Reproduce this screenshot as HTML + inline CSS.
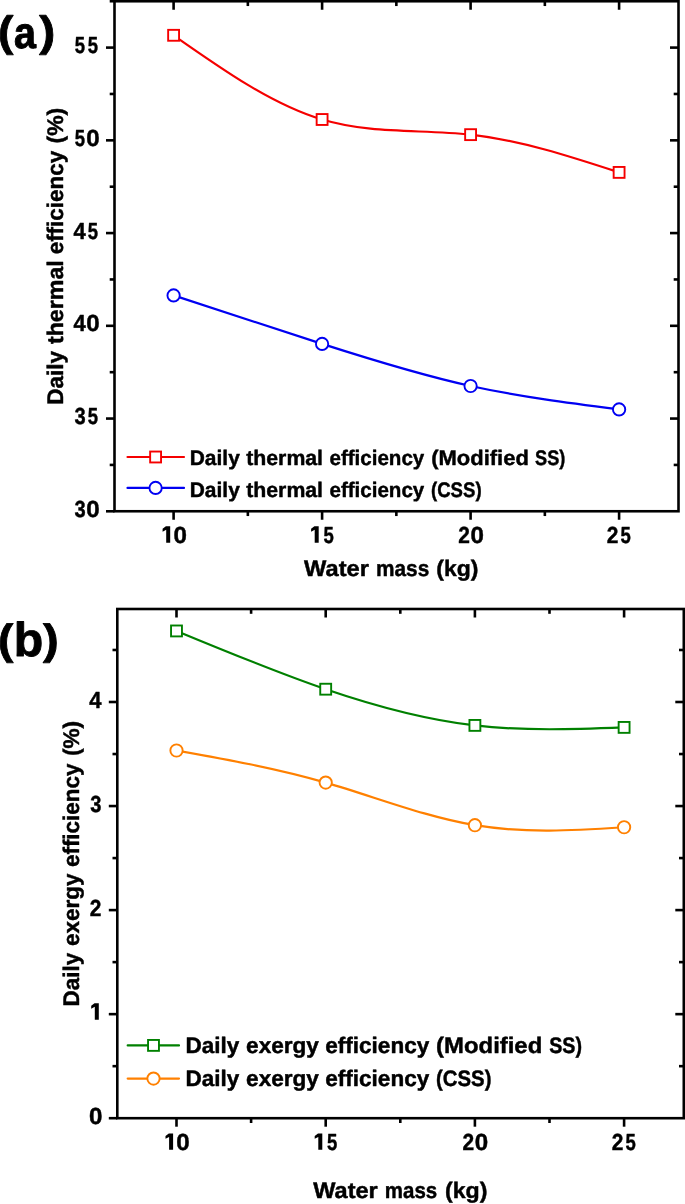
<!DOCTYPE html>
<html><head><meta charset="utf-8"><style>
html,body{margin:0;padding:0;background:#fff;width:685px;height:1204px;overflow:hidden}
svg{display:block;will-change:transform}
text{font-family:"Liberation Sans", sans-serif;font-weight:bold;fill:#000;stroke:#000;stroke-width:0.45px;stroke-linejoin:round;text-rendering:geometricPrecision}
</style></head><body>
<svg width="685" height="1204" viewBox="0 0 685 1204">
<rect width="685" height="1204" fill="#fff"/>
<path d="M173.6,35.3 C223.1,70.01 272.6,104.71 322.1,119.5 C371.6,134.29 421.1,129.15 470.6,134.65 C520.1,140.15 569.6,156.27 619.1,172.4" fill="none" stroke="#f50000" stroke-width="2.2"/>
<path d="M173.6,295.4 C223.1,311.72 272.6,328.04 322.1,343.9 C371.6,359.76 421.1,375.16 470.6,386 C520.1,396.84 569.6,403.12 619.1,409.4" fill="none" stroke="#0000f2" stroke-width="2.2"/>
<rect x="168.15" y="29.85" width="10.9" height="10.9" fill="#fff" stroke="#f50000" stroke-width="1.9"/>
<rect x="316.65" y="114.05" width="10.9" height="10.9" fill="#fff" stroke="#f50000" stroke-width="1.9"/>
<rect x="465.15" y="129.2" width="10.9" height="10.9" fill="#fff" stroke="#f50000" stroke-width="1.9"/>
<rect x="613.65" y="166.95" width="10.9" height="10.9" fill="#fff" stroke="#f50000" stroke-width="1.9"/>
<circle cx="173.6" cy="295.4" r="6.15" fill="#fff" stroke="#0000f2" stroke-width="1.9"/>
<circle cx="322.1" cy="343.9" r="6.15" fill="#fff" stroke="#0000f2" stroke-width="1.9"/>
<circle cx="470.6" cy="386" r="6.15" fill="#fff" stroke="#0000f2" stroke-width="1.9"/>
<circle cx="619.1" cy="409.4" r="6.15" fill="#fff" stroke="#0000f2" stroke-width="1.9"/>
<line x1="127.5" y1="457" x2="184" y2="457" stroke="#f50000" stroke-width="2.2" stroke-linecap="round"/>
<rect x="150.15" y="451.55" width="10.9" height="10.9" fill="#fff" stroke="#f50000" stroke-width="1.9"/>
<text x="189.78" y="465.4" font-size="21" textLength="50.01" lengthAdjust="spacingAndGlyphs">Daily</text>
<text x="246.23" y="465.4" font-size="21" textLength="76.81" lengthAdjust="spacingAndGlyphs">thermal</text>
<text x="329.51" y="465.4" font-size="21" textLength="94.77" lengthAdjust="spacingAndGlyphs">efficiency</text>
<text x="431.23" y="465.4" font-size="21" textLength="97.6" lengthAdjust="spacingAndGlyphs">(Modified</text>
<text x="535.04" y="465.4" font-size="21" textLength="30.29" lengthAdjust="spacingAndGlyphs">SS)</text>
<line x1="127.5" y1="487.9" x2="184" y2="487.9" stroke="#0000f2" stroke-width="2.2" stroke-linecap="round"/>
<circle cx="155.6" cy="487.9" r="6.15" fill="#fff" stroke="#0000f2" stroke-width="1.9"/>
<text x="189.78" y="496.6" font-size="21" textLength="50.01" lengthAdjust="spacingAndGlyphs">Daily</text>
<text x="246.23" y="496.6" font-size="21" textLength="76.81" lengthAdjust="spacingAndGlyphs">thermal</text>
<text x="329.51" y="496.6" font-size="21" textLength="94.77" lengthAdjust="spacingAndGlyphs">efficiency</text>
<text x="430.98" y="496.6" font-size="21" textLength="50.61" lengthAdjust="spacingAndGlyphs">(CSS)</text>
<line x1="173.6" y1="511.25" x2="173.6" y2="519.75" stroke="#000" stroke-width="2.6" stroke-linecap="butt"/>
<line x1="173.6" y1="1.25" x2="173.6" y2="9.75" stroke="#000" stroke-width="2.6" stroke-linecap="butt"/>
<line x1="322.1" y1="511.25" x2="322.1" y2="519.75" stroke="#000" stroke-width="2.6" stroke-linecap="butt"/>
<line x1="322.1" y1="1.25" x2="322.1" y2="9.75" stroke="#000" stroke-width="2.6" stroke-linecap="butt"/>
<line x1="470.6" y1="511.25" x2="470.6" y2="519.75" stroke="#000" stroke-width="2.6" stroke-linecap="butt"/>
<line x1="470.6" y1="1.25" x2="470.6" y2="9.75" stroke="#000" stroke-width="2.6" stroke-linecap="butt"/>
<line x1="619.1" y1="511.25" x2="619.1" y2="519.75" stroke="#000" stroke-width="2.6" stroke-linecap="butt"/>
<line x1="619.1" y1="1.25" x2="619.1" y2="9.75" stroke="#000" stroke-width="2.6" stroke-linecap="butt"/>
<line x1="247.85" y1="511.25" x2="247.85" y2="516.05" stroke="#000" stroke-width="2.6" stroke-linecap="butt"/>
<line x1="247.85" y1="1.25" x2="247.85" y2="6.05" stroke="#000" stroke-width="2.6" stroke-linecap="butt"/>
<line x1="396.35" y1="511.25" x2="396.35" y2="516.05" stroke="#000" stroke-width="2.6" stroke-linecap="butt"/>
<line x1="396.35" y1="1.25" x2="396.35" y2="6.05" stroke="#000" stroke-width="2.6" stroke-linecap="butt"/>
<line x1="544.85" y1="511.25" x2="544.85" y2="516.05" stroke="#000" stroke-width="2.6" stroke-linecap="butt"/>
<line x1="544.85" y1="1.25" x2="544.85" y2="6.05" stroke="#000" stroke-width="2.6" stroke-linecap="butt"/>
<line x1="114.5" y1="511.3" x2="106" y2="511.3" stroke="#000" stroke-width="2.6" stroke-linecap="butt"/>
<line x1="114.5" y1="418.56" x2="106" y2="418.56" stroke="#000" stroke-width="2.6" stroke-linecap="butt"/>
<line x1="678.5" y1="418.56" x2="670" y2="418.56" stroke="#000" stroke-width="2.6" stroke-linecap="butt"/>
<line x1="114.5" y1="325.82" x2="106" y2="325.82" stroke="#000" stroke-width="2.6" stroke-linecap="butt"/>
<line x1="678.5" y1="325.82" x2="670" y2="325.82" stroke="#000" stroke-width="2.6" stroke-linecap="butt"/>
<line x1="114.5" y1="233.08" x2="106" y2="233.08" stroke="#000" stroke-width="2.6" stroke-linecap="butt"/>
<line x1="678.5" y1="233.08" x2="670" y2="233.08" stroke="#000" stroke-width="2.6" stroke-linecap="butt"/>
<line x1="114.5" y1="140.34" x2="106" y2="140.34" stroke="#000" stroke-width="2.6" stroke-linecap="butt"/>
<line x1="678.5" y1="140.34" x2="670" y2="140.34" stroke="#000" stroke-width="2.6" stroke-linecap="butt"/>
<line x1="114.5" y1="47.6" x2="106" y2="47.6" stroke="#000" stroke-width="2.6" stroke-linecap="butt"/>
<line x1="678.5" y1="47.6" x2="670" y2="47.6" stroke="#000" stroke-width="2.6" stroke-linecap="butt"/>
<line x1="114.5" y1="464.93" x2="109.7" y2="464.93" stroke="#000" stroke-width="2.6" stroke-linecap="butt"/>
<line x1="678.5" y1="464.93" x2="673.7" y2="464.93" stroke="#000" stroke-width="2.6" stroke-linecap="butt"/>
<line x1="114.5" y1="372.19" x2="109.7" y2="372.19" stroke="#000" stroke-width="2.6" stroke-linecap="butt"/>
<line x1="678.5" y1="372.19" x2="673.7" y2="372.19" stroke="#000" stroke-width="2.6" stroke-linecap="butt"/>
<line x1="114.5" y1="279.45" x2="109.7" y2="279.45" stroke="#000" stroke-width="2.6" stroke-linecap="butt"/>
<line x1="678.5" y1="279.45" x2="673.7" y2="279.45" stroke="#000" stroke-width="2.6" stroke-linecap="butt"/>
<line x1="114.5" y1="186.71" x2="109.7" y2="186.71" stroke="#000" stroke-width="2.6" stroke-linecap="butt"/>
<line x1="678.5" y1="186.71" x2="673.7" y2="186.71" stroke="#000" stroke-width="2.6" stroke-linecap="butt"/>
<line x1="114.5" y1="93.97" x2="109.7" y2="93.97" stroke="#000" stroke-width="2.6" stroke-linecap="butt"/>
<line x1="678.5" y1="93.97" x2="673.7" y2="93.97" stroke="#000" stroke-width="2.6" stroke-linecap="butt"/>
<line x1="114.5" y1="1.23" x2="109.7" y2="1.23" stroke="#000" stroke-width="2.6" stroke-linecap="butt"/>
<rect x="114.5" y="1.25" width="564" height="510" fill="none" stroke="#000" stroke-width="2.6"/>
<text transform="translate(79.85,516.8) scale(0.8627,1)" x="-6.29" font-size="23.3">3</text>
<text transform="translate(92.95,516.8) scale(1.0364,1)" x="-6.41" font-size="23.3">0</text>
<text transform="translate(79.85,424.06) scale(0.8627,1)" x="-6.29" font-size="23.3">3</text>
<text transform="translate(92.95,424.06) scale(0.7940,1)" x="-6.52" font-size="23.3">5</text>
<text transform="translate(79.85,331.32) scale(0.9434,1)" x="-6.64" font-size="23.3">4</text>
<text transform="translate(92.95,331.32) scale(1.0364,1)" x="-6.41" font-size="23.3">0</text>
<text transform="translate(79.85,238.58) scale(0.9434,1)" x="-6.64" font-size="23.3">4</text>
<text transform="translate(92.95,238.58) scale(0.7940,1)" x="-6.52" font-size="23.3">5</text>
<text transform="translate(79.85,145.84) scale(0.7940,1)" x="-6.52" font-size="23.3">5</text>
<text transform="translate(92.95,145.84) scale(1.0364,1)" x="-6.41" font-size="23.3">0</text>
<text transform="translate(79.85,53.1) scale(0.7940,1)" x="-6.52" font-size="23.3">5</text>
<text transform="translate(92.95,53.1) scale(0.7940,1)" x="-6.52" font-size="23.3">5</text>
<path d="M166.2,542.7 L170.2,542.7 L170.2,526.3 L165.9,526.3 L162.6,528.8 L162.6,531.7 L166.2,529.8 Z" fill="#000"/>
<text transform="translate(180.1,542.7) scale(1.0364,1)" x="-6.41" font-size="23.3">0</text>
<path d="M314.7,542.7 L318.7,542.7 L318.7,526.3 L314.4,526.3 L311.1,528.8 L311.1,531.7 L314.7,529.8 Z" fill="#000"/>
<text transform="translate(328.6,542.7) scale(0.7940,1)" x="-6.52" font-size="23.3">5</text>
<text transform="translate(464,542.7) scale(0.8978,1)" x="-6.41" font-size="23.3">2</text>
<text transform="translate(477.1,542.7) scale(1.0364,1)" x="-6.41" font-size="23.3">0</text>
<text transform="translate(612.5,542.7) scale(0.8978,1)" x="-6.41" font-size="23.3">2</text>
<text transform="translate(625.6,542.7) scale(0.7940,1)" x="-6.52" font-size="23.3">5</text>
<text x="304.14" y="576" font-size="22.4" textLength="64.78" lengthAdjust="spacingAndGlyphs">Water</text>
<text x="375.99" y="576" font-size="22.4" textLength="53.23" lengthAdjust="spacingAndGlyphs">mass</text>
<text x="436.36" y="576" font-size="22.4" textLength="42.17" lengthAdjust="spacingAndGlyphs">(kg)</text>
<text transform="translate(63,403.7) rotate(-90)" x="-1.18" font-size="22.6" textLength="53.92" lengthAdjust="spacingAndGlyphs">Daily</text>
<text transform="translate(63,344) rotate(-90)" x="-0.08" font-size="22.6" textLength="83.89" lengthAdjust="spacingAndGlyphs">thermal</text>
<text transform="translate(63,253.6) rotate(-90)" x="-0.77" font-size="22.6" textLength="103.68" lengthAdjust="spacingAndGlyphs">efficiency</text>
<text transform="translate(63,142.5) rotate(-90)" x="-1.04" font-size="22.6" textLength="35.81" lengthAdjust="spacingAndGlyphs">(%)</text>
<text transform="translate(-2.1,45.99) scale(0.4607,0.4245)" font-size="100" style="stroke-width:1.95px">(</text>
<text transform="translate(14.02,47.56) scale(0.3943,0.4418)" font-size="100" style="stroke-width:2.28px">a</text>
<text transform="translate(39.2,45.99) scale(0.4821,0.4245)" font-size="100" style="stroke-width:1.87px">)</text>
<path d="M176.5,630.95 C226.23,651.57 275.97,672.18 325.7,689.2 C375.43,706.22 425.17,719.63 474.9,725.4 C524.63,731.17 574.37,729.28 624.1,727.4" fill="none" stroke="#008000" stroke-width="2.2"/>
<path d="M176.5,750.5 C226.23,759.37 275.97,768.23 325.7,782.6 C375.43,796.97 425.17,816.84 474.9,825.2 C524.63,833.56 574.37,830.4 624.1,827.25" fill="none" stroke="#ff8000" stroke-width="2.2"/>
<rect x="171.05" y="625.5" width="10.9" height="10.9" fill="#fff" stroke="#008000" stroke-width="1.9"/>
<rect x="320.25" y="683.75" width="10.9" height="10.9" fill="#fff" stroke="#008000" stroke-width="1.9"/>
<rect x="469.45" y="719.95" width="10.9" height="10.9" fill="#fff" stroke="#008000" stroke-width="1.9"/>
<rect x="618.65" y="721.95" width="10.9" height="10.9" fill="#fff" stroke="#008000" stroke-width="1.9"/>
<circle cx="176.5" cy="750.5" r="6.15" fill="#fff" stroke="#ff8000" stroke-width="1.9"/>
<circle cx="325.7" cy="782.6" r="6.15" fill="#fff" stroke="#ff8000" stroke-width="1.9"/>
<circle cx="474.9" cy="825.2" r="6.15" fill="#fff" stroke="#ff8000" stroke-width="1.9"/>
<circle cx="624.1" cy="827.25" r="6.15" fill="#fff" stroke="#ff8000" stroke-width="1.9"/>
<line x1="127.7" y1="1045.4" x2="179" y2="1045.4" stroke="#008000" stroke-width="2.2" stroke-linecap="round"/>
<rect x="148.05" y="1039.95" width="10.9" height="10.9" fill="#fff" stroke="#008000" stroke-width="1.9"/>
<text x="185.52" y="1052.9" font-size="22.4" textLength="53.86" lengthAdjust="spacingAndGlyphs">Daily</text>
<text x="246.12" y="1052.9" font-size="22.4" textLength="72.75" lengthAdjust="spacingAndGlyphs">exergy</text>
<text x="325.22" y="1052.9" font-size="22.4" textLength="104.04" lengthAdjust="spacingAndGlyphs">efficiency</text>
<text x="436.12" y="1052.9" font-size="22.4" textLength="106.13" lengthAdjust="spacingAndGlyphs">(Modified</text>
<text x="549.19" y="1052.9" font-size="22.4" textLength="32.77" lengthAdjust="spacingAndGlyphs">SS)</text>
<line x1="127.7" y1="1078.6" x2="179" y2="1078.6" stroke="#ff8000" stroke-width="2.2" stroke-linecap="round"/>
<circle cx="153.5" cy="1078.6" r="6.15" fill="#fff" stroke="#ff8000" stroke-width="1.9"/>
<text x="185.52" y="1086.1" font-size="22.4" textLength="53.86" lengthAdjust="spacingAndGlyphs">Daily</text>
<text x="246.12" y="1086.1" font-size="22.4" textLength="72.75" lengthAdjust="spacingAndGlyphs">exergy</text>
<text x="325.22" y="1086.1" font-size="22.4" textLength="104.04" lengthAdjust="spacingAndGlyphs">efficiency</text>
<text x="436.08" y="1086.1" font-size="22.4" textLength="55.33" lengthAdjust="spacingAndGlyphs">(CSS)</text>
<line x1="176.5" y1="1118.2" x2="176.5" y2="1126.7" stroke="#000" stroke-width="2.6" stroke-linecap="butt"/>
<line x1="176.5" y1="609" x2="176.5" y2="617.5" stroke="#000" stroke-width="2.6" stroke-linecap="butt"/>
<line x1="325.7" y1="1118.2" x2="325.7" y2="1126.7" stroke="#000" stroke-width="2.6" stroke-linecap="butt"/>
<line x1="325.7" y1="609" x2="325.7" y2="617.5" stroke="#000" stroke-width="2.6" stroke-linecap="butt"/>
<line x1="474.9" y1="1118.2" x2="474.9" y2="1126.7" stroke="#000" stroke-width="2.6" stroke-linecap="butt"/>
<line x1="474.9" y1="609" x2="474.9" y2="617.5" stroke="#000" stroke-width="2.6" stroke-linecap="butt"/>
<line x1="624.1" y1="1118.2" x2="624.1" y2="1126.7" stroke="#000" stroke-width="2.6" stroke-linecap="butt"/>
<line x1="624.1" y1="609" x2="624.1" y2="617.5" stroke="#000" stroke-width="2.6" stroke-linecap="butt"/>
<line x1="251.1" y1="1118.2" x2="251.1" y2="1123" stroke="#000" stroke-width="2.6" stroke-linecap="butt"/>
<line x1="251.1" y1="609" x2="251.1" y2="613.8" stroke="#000" stroke-width="2.6" stroke-linecap="butt"/>
<line x1="400.3" y1="1118.2" x2="400.3" y2="1123" stroke="#000" stroke-width="2.6" stroke-linecap="butt"/>
<line x1="400.3" y1="609" x2="400.3" y2="613.8" stroke="#000" stroke-width="2.6" stroke-linecap="butt"/>
<line x1="549.5" y1="1118.2" x2="549.5" y2="1123" stroke="#000" stroke-width="2.6" stroke-linecap="butt"/>
<line x1="549.5" y1="609" x2="549.5" y2="613.8" stroke="#000" stroke-width="2.6" stroke-linecap="butt"/>
<line x1="117.3" y1="1118.2" x2="108.8" y2="1118.2" stroke="#000" stroke-width="2.6" stroke-linecap="butt"/>
<line x1="117.3" y1="1014.15" x2="108.8" y2="1014.15" stroke="#000" stroke-width="2.6" stroke-linecap="butt"/>
<line x1="683.8" y1="1014.15" x2="675.3" y2="1014.15" stroke="#000" stroke-width="2.6" stroke-linecap="butt"/>
<line x1="117.3" y1="910.1" x2="108.8" y2="910.1" stroke="#000" stroke-width="2.6" stroke-linecap="butt"/>
<line x1="683.8" y1="910.1" x2="675.3" y2="910.1" stroke="#000" stroke-width="2.6" stroke-linecap="butt"/>
<line x1="117.3" y1="806.05" x2="108.8" y2="806.05" stroke="#000" stroke-width="2.6" stroke-linecap="butt"/>
<line x1="683.8" y1="806.05" x2="675.3" y2="806.05" stroke="#000" stroke-width="2.6" stroke-linecap="butt"/>
<line x1="117.3" y1="702" x2="108.8" y2="702" stroke="#000" stroke-width="2.6" stroke-linecap="butt"/>
<line x1="683.8" y1="702" x2="675.3" y2="702" stroke="#000" stroke-width="2.6" stroke-linecap="butt"/>
<line x1="117.3" y1="1066.17" x2="112.5" y2="1066.17" stroke="#000" stroke-width="2.6" stroke-linecap="butt"/>
<line x1="683.8" y1="1066.17" x2="679" y2="1066.17" stroke="#000" stroke-width="2.6" stroke-linecap="butt"/>
<line x1="117.3" y1="962.12" x2="112.5" y2="962.12" stroke="#000" stroke-width="2.6" stroke-linecap="butt"/>
<line x1="683.8" y1="962.12" x2="679" y2="962.12" stroke="#000" stroke-width="2.6" stroke-linecap="butt"/>
<line x1="117.3" y1="858.08" x2="112.5" y2="858.08" stroke="#000" stroke-width="2.6" stroke-linecap="butt"/>
<line x1="683.8" y1="858.08" x2="679" y2="858.08" stroke="#000" stroke-width="2.6" stroke-linecap="butt"/>
<line x1="117.3" y1="754.03" x2="112.5" y2="754.03" stroke="#000" stroke-width="2.6" stroke-linecap="butt"/>
<line x1="683.8" y1="754.03" x2="679" y2="754.03" stroke="#000" stroke-width="2.6" stroke-linecap="butt"/>
<line x1="117.3" y1="649.98" x2="112.5" y2="649.98" stroke="#000" stroke-width="2.6" stroke-linecap="butt"/>
<line x1="683.8" y1="649.98" x2="679" y2="649.98" stroke="#000" stroke-width="2.6" stroke-linecap="butt"/>
<rect x="117.3" y="609" width="566.5" height="509.2" fill="none" stroke="#000" stroke-width="2.6"/>
<text transform="translate(95.6,1123.8) scale(1.0364,1)" x="-6.41" font-size="23.3">0</text>
<path d="M94.8,1019.75 L98.8,1019.75 L98.8,1003.35 L94.5,1003.35 L91.2,1005.85 L91.2,1008.75 L94.8,1006.85 Z" fill="#000"/>
<text transform="translate(95.6,915.7) scale(0.8978,1)" x="-6.41" font-size="23.3">2</text>
<text transform="translate(95.6,811.65) scale(0.8627,1)" x="-6.29" font-size="23.3">3</text>
<text transform="translate(95.6,707.6) scale(0.9434,1)" x="-6.64" font-size="23.3">4</text>
<path d="M169.1,1149.8 L173.1,1149.8 L173.1,1133.4 L168.8,1133.4 L165.5,1135.9 L165.5,1138.8 L169.1,1136.9 Z" fill="#000"/>
<text transform="translate(183,1149.8) scale(1.0364,1)" x="-6.41" font-size="23.3">0</text>
<path d="M318.3,1149.8 L322.3,1149.8 L322.3,1133.4 L318,1133.4 L314.7,1135.9 L314.7,1138.8 L318.3,1136.9 Z" fill="#000"/>
<text transform="translate(332.2,1149.8) scale(0.7940,1)" x="-6.52" font-size="23.3">5</text>
<text transform="translate(468.3,1149.8) scale(0.8978,1)" x="-6.41" font-size="23.3">2</text>
<text transform="translate(481.4,1149.8) scale(1.0364,1)" x="-6.41" font-size="23.3">0</text>
<text transform="translate(617.5,1149.8) scale(0.8978,1)" x="-6.41" font-size="23.3">2</text>
<text transform="translate(630.6,1149.8) scale(0.7940,1)" x="-6.52" font-size="23.3">5</text>
<text x="313.24" y="1197.9" font-size="22.4" textLength="64.48" lengthAdjust="spacingAndGlyphs">Water</text>
<text x="384.81" y="1197.9" font-size="22.4" textLength="52.4" lengthAdjust="spacingAndGlyphs">mass</text>
<text x="444.95" y="1197.9" font-size="22.4" textLength="42.48" lengthAdjust="spacingAndGlyphs">(kg)</text>
<text transform="translate(79,1005.3) rotate(-90)" x="-1.18" font-size="22.6" textLength="53.72" lengthAdjust="spacingAndGlyphs">Daily</text>
<text transform="translate(79,945.3) rotate(-90)" x="-0.77" font-size="22.6" textLength="72.46" lengthAdjust="spacingAndGlyphs">exergy</text>
<text transform="translate(79,866.3) rotate(-90)" x="-0.77" font-size="22.6" textLength="103.58" lengthAdjust="spacingAndGlyphs">efficiency</text>
<text transform="translate(79,755) rotate(-90)" x="-1.02" font-size="22.6" textLength="35.17" lengthAdjust="spacingAndGlyphs">(%)</text>
<text transform="translate(-2.1,653.81) scale(0.4607,0.4234)" font-size="100" style="stroke-width:1.95px">(</text>
<text transform="translate(13.73,656) scale(0.4820,0.4753)" font-size="100" style="stroke-width:1.87px">b</text>
<text transform="translate(43,653.81) scale(0.4714,0.4234)" font-size="100" style="stroke-width:1.91px">)</text>
</svg>
</body></html>
